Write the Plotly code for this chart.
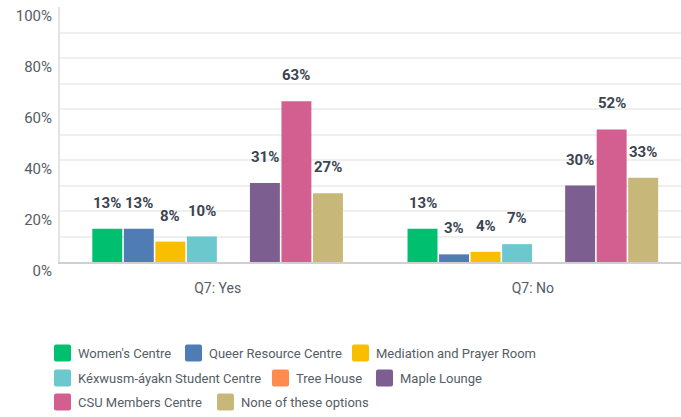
import plotly.graph_objects as go

# Survey question groups and facilities
categories = ["Q7: Yes", "Q7: No"]
facilities = [
    "Women's Centre",
    "Queer Resource Centre",
    "Mediation and Prayer Room",
    "Kéxwusm-áyakn Student Centre",
    "Tree House",
    "Maple Lounge",
    "CSU Members Centre",
    "None of these options",
]
# Percentage of respondents per facility, in category order
womens_centre = [13, 13]
queer_resource_centre = [13, 3]
mediation_prayer_room = [8, 4]
kexwusm_ayakn_centre = [10, 7]
tree_house = [0, 0]
maple_lounge = [31, 30]
csu_members_centre = [63, 52]
none_of_these = [27, 33]

series_values = [
    womens_centre,
    queer_resource_centre,
    mediation_prayer_room,
    kexwusm_ayakn_centre,
    tree_house,
    maple_lounge,
    csu_members_centre,
    none_of_these,
]
y_tick_values = list(range(0, 101, 10))
y_tick_labels = [f"{v}%" if v % 20 == 0 else "" for v in y_tick_values]

colors = ["#00BF6F", "#507CB6", "#F9BE00", "#6BC8CD",
          "#FF8B4F", "#7D5E90", "#D25F90", "#C7B879"]

W, H = 681, 417
M_L, M_R, M_T, M_B = 60, 0, 7, 155
PLOT_W = W - M_L - M_R
PLOT_H = H - M_T - M_B

FONT = "Roboto"
LABEL_COLOR = "#3b4450"
TEXT_COLOR = "#555d66"

BARGAP = 0.2
n_series = len(facilities)
slot = (1 - BARGAP) / n_series

fig = go.Figure()
for name, vals, col in zip(facilities, series_values, colors):
    fig.add_trace(go.Bar(
        x=categories, y=vals, name=name,
        marker=dict(color=col, line=dict(width=0)),
        showlegend=False,
        hovertemplate="%{x}<br>" + name + ": %{y}%<extra></extra>",
    ))

# Value labels above each non-empty bar
annotations = []
for i, vals in enumerate(series_values):
    for ci, v in enumerate(vals):
        if v <= 0:
            continue
        annotations.append(dict(
            x=ci + (i - (n_series - 1) / 2) * slot, y=v,
            xref="x", yref="y", text=f"{v}%", showarrow=False,
            yanchor="bottom", yshift=15,
            font=dict(family=FONT, size=15, color=LABEL_COLOR, weight="bold"),
        ))

# Legend drawn as rounded swatches with labels, three rows
def px_to_paper_x(px):
    return (px - M_L) / PLOT_W

def px_to_paper_y(py):
    return (H - M_B - py) / PLOT_H

legend_rows = [353, 378, 402]
legend_layout = [(0, 54), (0, 185), (0, 352),
                 (1, 54), (1, 272), (1, 376),
                 (2, 54), (2, 217)]
swatch = ("M -6.5,-8.5 L 6.5,-8.5 Q 8.5,-8.5 8.5,-6.5 L 8.5,6.5 "
          "Q 8.5,8.5 6.5,8.5 L -6.5,8.5 Q -8.5,8.5 -8.5,6.5 "
          "L -8.5,-6.5 Q -8.5,-8.5 -6.5,-8.5 Z")
shapes = []
for name, col, (row, sx) in zip(facilities, colors, legend_layout):
    cy = legend_rows[row]
    shapes.append(dict(
        type="path", xref="paper", yref="paper",
        xsizemode="pixel", ysizemode="pixel",
        xanchor=px_to_paper_x(sx + 8.5), yanchor=px_to_paper_y(cy),
        path=swatch, fillcolor=col, line=dict(width=0),
    ))
    annotations.append(dict(
        x=px_to_paper_x(sx + 22), y=px_to_paper_y(cy),
        xref="paper", yref="paper", text=name, showarrow=False,
        xanchor="left", yanchor="middle",
        font=dict(family=FONT, size=13, color=TEXT_COLOR),
    ))

fig.update_layout(
    width=W, height=H,
    margin=dict(l=M_L, r=M_R, t=M_T, b=M_B, pad=0),
    paper_bgcolor="white", plot_bgcolor="white",
    barmode="group", bargap=BARGAP, bargroupgap=0.05,
    showlegend=False,
    font=dict(family=FONT, size=14, color=TEXT_COLOR),
    annotations=annotations, shapes=shapes,
    xaxis=dict(
        type="category", range=[-0.5, 1.47],
        showline=True, linecolor="#d0d0d0", linewidth=2,
        showgrid=False, ticks="", ticklabelstandoff=12,
        tickfont=dict(family=FONT, size=14, color=TEXT_COLOR),
        fixedrange=True,
    ),
    yaxis=dict(
        range=[0, 100], tickvals=y_tick_values, ticktext=y_tick_labels,
        showgrid=True, gridcolor="#efefef", gridwidth=2,
        showline=True, linecolor="#e4e4e4", linewidth=2,
        zeroline=False, ticks="", ticklabelstandoff=3, ticklabelshift=9,
        tickfont=dict(family=FONT, size=15, color=TEXT_COLOR),
        fixedrange=True,
    ),
)

fig.write_html("out.html", config={"displayModeBar": False})
